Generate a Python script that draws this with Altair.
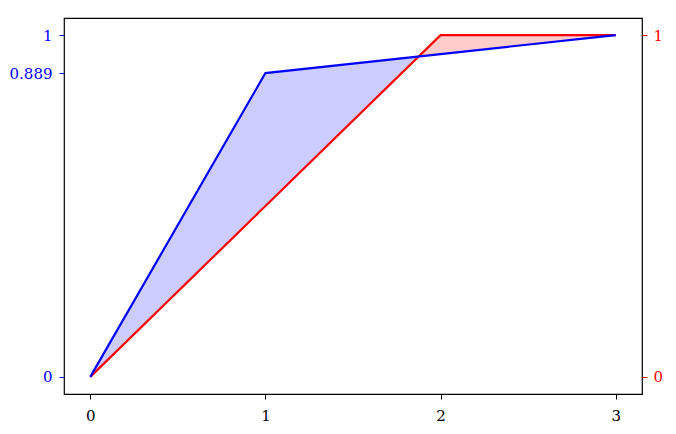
import altair as alt
import pandas as pd

x_vals = [0, 1, 2, 3]
blue_vals = [0.0, 0.889, 0.9445, 1.0]
red_vals = [0.0, 0.5, 1.0, 1.0]
left_ticks = [0, 0.889, 1]
right_ticks = [0, 1]
x_ticks = [0, 1, 2, 3]

BLUE = "#0000ff"
RED = "#ff0000"
FONT = "'DejaVu Serif', 'Liberation Serif', serif"
FS = 15

lines_df = pd.DataFrame({"x": x_vals, "blue": blue_vals, "red": red_vals})

# fill_between with interpolation: insert crossing points between segments
rows = []
for i in range(len(x_vals)):
    rows.append((x_vals[i], blue_vals[i], red_vals[i]))
    if i + 1 < len(x_vals):
        d0 = blue_vals[i] - red_vals[i]
        d1 = blue_vals[i + 1] - red_vals[i + 1]
        if d0 * d1 < 0:
            t = d0 / (d0 - d1)
            xc = x_vals[i] + t * (x_vals[i + 1] - x_vals[i])
            yc = blue_vals[i] + t * (blue_vals[i + 1] - blue_vals[i])
            rows.append((xc, yc, yc))
fill_df = pd.DataFrame(rows, columns=["x", "blue", "red"])
fill_df["lo"] = fill_df[["blue", "red"]].min(axis=1)

xdom = [-0.15, 3.15]
ydom = [-0.05, 1.05]

xenc = alt.X("x:Q", scale=alt.Scale(domain=xdom, nice=False, zero=False),
             axis=alt.Axis(values=x_ticks, title=None, grid=False, format="d",
                           domain=False, tickColor="black", labelColor="black",
                           tickSize=5, tickWidth=1, labelPadding=9,
                           labelFont=FONT, labelFontSize=FS))
yscale = alt.Scale(domain=ydom, nice=False, zero=False)

base_fill = alt.Chart(fill_df)
blue_fill = base_fill.mark_area(color="#ccccff", opacity=1).encode(
    x=xenc, y=alt.Y("blue:Q", scale=yscale, axis=None), y2="lo:Q")
red_fill = base_fill.mark_area(color="#ffcccc", opacity=1).encode(
    x=xenc, y=alt.Y("red:Q", scale=yscale, axis=None), y2="lo:Q")

red_line = alt.Chart(lines_df).mark_line(color=RED, strokeWidth=2.2).encode(
    x=xenc,
    y=alt.Y("red:Q", scale=yscale,
            axis=alt.Axis(orient="right", values=right_ticks, title=None, grid=False,
                          domain=False, tickColor=RED, labelColor=RED, tickSize=5,
                          tickWidth=1, labelPadding=6, labelFont=FONT,
                          labelFontSize=FS, labelExpr="format(datum.value, '.4~g')")))
blue_line = alt.Chart(lines_df).mark_line(color=BLUE, strokeWidth=2.2).encode(
    x=xenc,
    y=alt.Y("blue:Q", scale=yscale,
            axis=alt.Axis(orient="left", values=left_ticks, title=None, grid=False,
                          domain=False, tickColor=BLUE, labelColor=BLUE, tickSize=5,
                          tickWidth=1, labelPadding=7, labelFont=FONT,
                          labelFontSize=FS, labelExpr="format(datum.value, '.4~g')")))

chart = alt.layer(blue_fill, red_fill, red_line, blue_line).resolve_scale(
    y="independent"
).properties(
    width=578, height=376,
    background="white",
    autosize=alt.AutoSizeParams(type="none"),
    padding={"left": 56, "top": 10, "right": 26, "bottom": 32},
).configure_view(stroke="black", strokeWidth=1.2)

chart.save("out.html", embed_options={"renderer": "svg", "actions": False})
